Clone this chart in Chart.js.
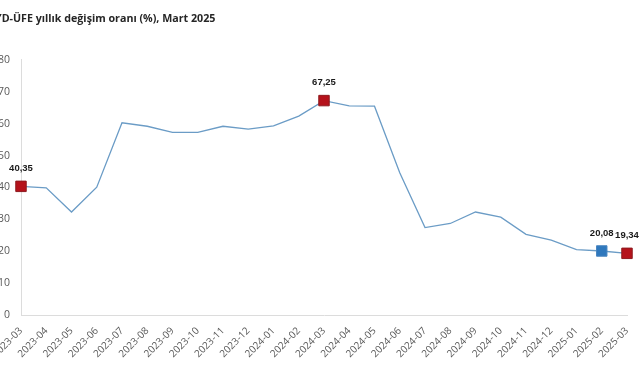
<!DOCTYPE html>
<html>
<head>
<meta charset="utf-8">
<script src="https://cdn.jsdelivr.net/npm/chart.js@4"></script>
<style>
  html, body { margin: 0; padding: 0; background: #fff; overflow: hidden; }
  #wrap { position: absolute; left: -30px; top: 0; width: 671px; height: 380px; }
</style>
</head>
<body>
<div id="wrap"><canvas id="ufeChart"></canvas></div>
<script>
const months = ['2023-03', '2023-04', '2023-05', '2023-06', '2023-07', '2023-08', '2023-09',
    '2023-10', '2023-11', '2023-12', '2024-01', '2024-02', '2024-03', '2024-04', '2024-05',
    '2024-06', '2024-07', '2024-08', '2024-09', '2024-10', '2024-11', '2024-12', '2025-01',
    '2025-02', '2025-03'];
const annualChange = [40.35, 39.9, 32.3, 40.1, 60.3, 59.2, 57.3, 57.3, 59.2, 58.3, 59.3, 62.4,
    67.25, 65.6, 65.5, 44.6, 27.4, 28.7, 32.3, 30.7, 25.3, 23.5, 20.5, 20.08, 19.34];
const redPoints = [0, 12, 24];
const bluePoints = [23];
const yTicks = [0, 10, 20, 30, 40, 50, 60, 70, 80];

document.addEventListener('DOMContentLoaded', function() {
    const ctx = document.getElementById('ufeChart').getContext('2d');

    const isMarked = i => redPoints.includes(i) || bluePoints.includes(i);

    // values above the highlighted squares
    const pointLabels = {
        id: 'pointLabels',
        afterDatasetsDraw(chart) {
            const c = chart.ctx;
            const meta = chart.getDatasetMeta(0);
            c.save();
            c.font = 'bold 9.5px "Liberation Sans", Arial, sans-serif';
            c.fillStyle = '#1a1a1a';
            c.textAlign = 'center';
            c.textBaseline = 'middle';
            meta.data.forEach((pt, i) => {
                if (!isMarked(i)) return;
                c.fillText(annualChange[i].toFixed(2).replace('.', ','), pt.x, pt.y - 18);
            });
            c.restore();
        }
    };

    new Chart(ctx, {
        type: 'line',
        data: {
            labels: months,
            datasets: [{
                data: annualChange,
                borderColor: '#6b9cc6',
                borderWidth: 1.3,
                tension: 0,
                pointStyle: 'rect',
                pointRadius: c => isMarked(c.dataIndex) ? 7.4 : 0,
                pointHoverRadius: c => isMarked(c.dataIndex) ? 7.4 : 0,
                pointBackgroundColor: c => bluePoints.includes(c.dataIndex) ? '#2f78bd' : '#b5121b',
                pointBorderColor: c => bluePoints.includes(c.dataIndex) ? '#4a86c0' : '#8e1a1f',
                pointBorderWidth: 1
            }]
        },
        options: {
            responsive: true,
            maintainAspectRatio: false,
            animation: false,
            layout: { padding: { left: 25, right: 14, top: 0, bottom: 0 } },
            scales: {
                x: {
                    offset: false,
                    grid: { display: false },
                    border: { display: true, color: '#dcdcdc', width: 1 },
                    ticks: {
                        minRotation: 45,
                        maxRotation: 45,
                        autoSkip: false,
                        padding: 2,
                        color: '#595959',
                        font: { size: 10, family: '"Open Sans", sans-serif' }
                    },
                    afterFit: s => { s.height = 65; }
                },
                y: {
                    min: 0,
                    max: 80,
                    afterBuildTicks: s => { s.ticks = yTicks.map(v => ({ value: v })); },
                    grid: { display: false, drawTicks: false },
                    border: { display: true, color: '#dcdcdc', width: 1 },
                    ticks: {
                        padding: 11,
                        color: '#595959',
                        font: { size: 10.5, family: '"Open Sans", sans-serif' }
                    },
                    afterFit: s => { s.width = 26; }
                }
            },
            plugins: {
                legend: { display: false },
                tooltip: { enabled: false },
                title: {
                    display: true,
                    text: 'YD-ÜFE yıllık değişim oranı (%), Mart 2025',
                    align: 'start',
                    color: '#262626',
                    font: { size: 10.7, weight: 'bold', family: '"Open Sans", sans-serif' },
                    padding: { top: 13, bottom: 34.1 }
                }
            }
        },
        plugins: [pointLabels]
    });
});
</script>
</body>
</html>
